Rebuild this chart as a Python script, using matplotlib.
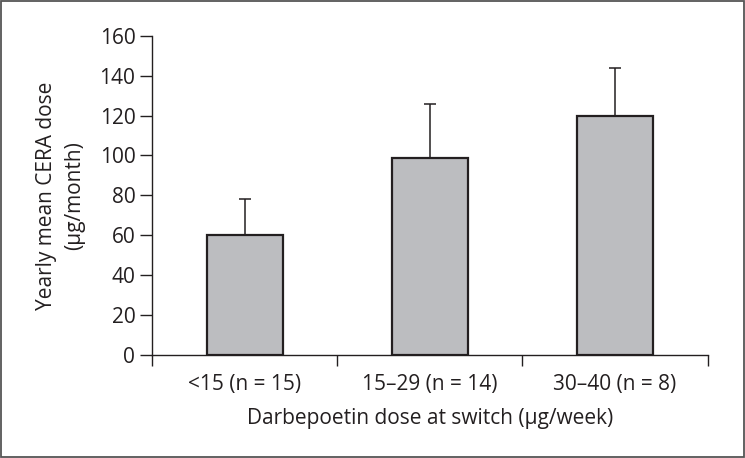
import numpy as np
import matplotlib
matplotlib.use('agg')
import matplotlib.pyplot as plt
from matplotlib.patches import Rectangle

# Data
groups = ["<15 (n = 15)", "15\u201329 (n = 14)", "30\u201340 (n = 8)"]
means = [60, 98.5, 120]
errs = [18, 27.5, 24]

plt.rcParams['font.family'] = ['Open Sans', 'DejaVu Sans']
fs = 15

fig = plt.figure(figsize=(7.45, 4.58), dpi=100)
ax = fig.add_axes([0.204, 0.2249, 0.746, 0.697])

x = np.arange(len(groups))
ax.bar(x, means, width=0.41, color='#bcbdc0', edgecolor='#231f20',
       linewidth=1.6, zorder=2)
ax.errorbar(x, means, yerr=[np.zeros(len(errs)), errs], fmt='none',
            ecolor='#231f20', elinewidth=1.1, capsize=4.4, capthick=1.1,
            zorder=1)

ax.set_xlim(-0.5, len(groups) - 0.5)
ax.set_ylim(0, 160)
ax.set_yticks(range(0, 161, 20))

# boundary ticks as major, category labels as minor
ax.set_xticks(np.arange(-0.5, len(groups), 1.0))
ax.set_xticklabels([])
ax.set_xticks(x, minor=True)
ax.set_xticklabels(groups, minor=True)
ax.tick_params(axis='x', which='major', direction='out', length=8,
               width=1, color='#231f20')
ax.tick_params(axis='x', which='minor', length=0, pad=14, labelsize=fs,
               labelcolor='#231f20')
ax.tick_params(axis='y', direction='out', length=9, width=1,
               color='#231f20', labelsize=fs, labelcolor='#231f20', pad=3)

for s in ['top', 'right']:
    ax.spines[s].set_visible(False)
for s in ['left', 'bottom']:
    ax.spines[s].set_color('#231f20')
    ax.spines[s].set_linewidth(1)

ax.set_ylabel("Yearly mean CERA dose\n(\u00b5g/month)", fontsize=fs,
              color='#231f20', labelpad=10, linespacing=1.45,
              multialignment='center')
ax.set_xlabel("Darbepoetin dose at switch (\u00b5g/week)", fontsize=fs,
              color='#231f20', labelpad=9)

# outer frame of the figure
fig.patches.append(Rectangle((0.002, 0.002), 0.996, 0.996, transform=fig.transFigure,
                             fill=False, edgecolor='#555555', linewidth=1.3))

fig.savefig('out.png', dpi=100)
